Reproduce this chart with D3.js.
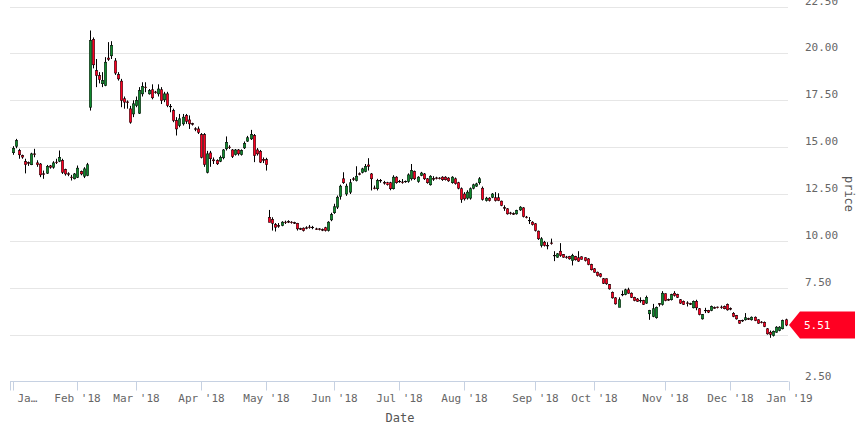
<!DOCTYPE html>
<html><head><meta charset="utf-8">
<script src="https://cdn.jsdelivr.net/npm/d3@7"></script>
<style>body{margin:0;background:#fff} svg{display:block}</style>
</head><body>
<svg id="chart" width="858" height="430"></svg>
<script>
const opens = [
14.70,15.05,14.82,14.55,14.23,14.17,14.06,14.64,14.16,14.10,
13.58,13.61,14.00,13.93,14.20,14.25,14.29,13.80,13.58,13.40,
13.31,13.39,13.70,13.45,13.49,17.13,20.74,19.08,18.82,18.38,
18.29,19.75,19.87,19.60,18.87,18.52,17.58,17.41,17.04,16.77,
17.22,16.81,17.84,18.20,17.84,18.06,17.94,17.84,18.06,17.52,
17.84,17.18,16.95,16.42,16.15,16.24,16.69,16.45,16.25,15.98,
15.97,15.67,15.67,13.66,14.69,14.32,14.29,14.25,14.43,14.91,
15.00,14.85,14.60,14.85,14.60,14.96,15.32,15.44,15.62,14.85,
14.78,14.35,14.33,11.26,11.14,10.87,10.82,10.82,11.00,11.03,
11.00,10.97,10.94,10.65,10.68,10.70,10.74,10.73,10.64,10.64,
10.60,10.70,10.55,11.12,11.50,11.80,12.38,13.31,12.50,12.60,
13.31,13.22,13.58,13.66,13.70,14.05,13.57,12.82,12.78,13.23,
13.11,13.10,13.10,12.78,13.40,13.18,13.14,13.18,13.17,13.31,
13.70,13.17,13.49,13.57,13.31,12.99,13.32,13.36,13.35,13.40,
13.40,13.35,13.10,13.31,13.10,12.78,12.50,12.28,12.28,12.81,
12.92,13.10,12.81,12.15,12.28,12.33,12.30,12.30,12.12,11.77,
11.71,11.49,11.45,11.44,11.65,11.76,11.27,11.10,11.00,10.91,
10.52,9.75,9.93,9.76,9.89,9.23,9.13,9.45,9.27,9.14,
9.17,8.95,9.17,9.10,9.15,9.10,9.04,8.74,8.51,8.33,
8.24,7.98,7.98,7.67,7.26,6.96,6.46,7.15,7.14,7.39,
7.21,6.99,6.90,6.83,6.82,6.68,6.11,5.97,5.90,6.65,
6.61,7.18,6.87,6.86,7.21,7.14,6.86,6.78,6.69,6.65,
6.43,6.78,6.38,5.84,6.30,6.29,6.29,6.44,6.47,6.47,
6.50,6.61,6.39,6.14,6.02,5.75,5.76,5.79,5.85,5.79,
5.93,5.79,5.67,5.66,5.31,5.13,4.95,5.13,5.22,5.31,
5.79];
const highs = [
15.05,15.44,14.91,14.60,14.38,14.23,14.70,14.91,14.30,14.15,
13.75,14.05,14.05,14.25,14.38,14.82,14.38,13.85,13.66,13.52,
13.62,14.02,13.75,13.93,14.16,21.22,20.85,19.70,19.00,19.00,
19.80,20.60,20.65,19.75,19.00,18.64,17.70,17.49,17.20,17.50,
17.70,18.20,18.46,18.46,18.10,18.35,18.00,18.35,18.20,17.95,
17.95,17.30,17.05,16.60,16.77,16.77,16.77,16.69,16.30,16.06,
16.10,15.75,15.75,14.80,14.80,14.45,14.35,14.55,14.90,15.57,
15.10,14.90,14.90,14.90,14.88,15.30,15.60,15.92,15.70,14.95,
14.85,14.45,14.43,11.65,11.26,10.95,10.95,11.05,11.08,11.10,
11.05,11.02,10.96,10.70,10.72,10.78,10.85,10.80,10.70,10.68,
10.66,10.75,11.05,11.50,11.98,12.42,13.00,13.66,13.05,13.30,
13.40,13.98,13.65,13.90,14.10,14.41,13.62,12.95,13.31,13.30,
13.20,13.15,13.15,13.50,13.45,13.25,13.30,13.22,13.60,14.10,
13.75,13.45,13.68,13.62,13.35,13.50,13.45,13.42,13.40,13.45,
13.45,13.40,13.45,13.38,13.15,12.85,12.60,12.70,12.85,13.05,
13.10,13.40,12.90,12.35,12.33,12.55,12.60,12.54,12.15,11.90,
11.75,11.55,11.52,11.66,11.85,11.80,11.33,11.27,11.05,10.95,
10.55,10.20,10.00,9.93,10.12,9.45,9.35,9.88,9.30,9.20,
9.20,9.31,9.20,9.45,9.18,9.13,9.08,8.78,8.55,8.36,
8.28,8.02,8.00,7.70,7.30,7.00,6.99,7.35,7.45,7.50,
7.25,7.02,6.95,6.99,6.86,7.08,6.32,6.64,6.50,6.68,
7.32,7.20,6.92,7.18,7.32,7.18,6.90,6.82,6.78,6.70,
6.82,6.86,6.42,6.10,6.43,6.32,6.55,6.50,6.50,6.55,
6.55,6.66,6.45,6.20,6.05,5.78,5.80,6.15,5.90,5.97,
5.97,5.82,5.72,5.70,5.35,5.22,5.22,5.45,5.45,5.80,
5.85];
const lows = [
14.59,14.94,14.38,14.38,13.60,14.00,14.04,14.46,13.95,13.40,
13.31,13.57,13.85,13.85,14.10,14.20,13.57,13.48,13.45,13.22,
13.28,13.35,13.50,13.35,13.45,16.95,19.20,18.20,18.40,18.20,
18.25,19.60,19.70,18.85,18.55,17.13,17.05,17.05,16.25,16.60,
17.13,16.77,17.70,17.93,17.80,17.55,17.85,17.70,17.30,17.40,
17.13,16.86,16.33,15.62,16.06,16.15,16.24,15.97,16.15,15.85,
15.70,14.40,13.95,13.60,13.95,14.10,14.05,14.20,14.35,14.82,
14.90,14.42,14.55,14.55,14.55,14.90,15.28,15.38,14.20,14.55,
14.15,14.15,13.75,10.99,10.55,10.50,10.70,10.78,10.90,10.95,
10.92,10.90,10.55,10.58,10.50,10.62,10.65,10.62,10.58,10.56,
10.52,10.50,10.50,11.05,11.44,11.70,12.20,13.04,12.40,12.50,
13.20,13.17,13.50,13.60,13.66,13.75,12.69,12.75,12.69,13.10,
13.00,12.95,12.70,12.74,13.05,13.10,13.05,13.10,13.10,13.22,
13.25,13.10,13.45,13.25,13.05,12.95,13.20,13.28,13.28,13.20,
13.22,13.15,13.05,13.00,12.75,12.03,12.15,12.20,12.20,12.75,
12.88,13.00,12.15,12.10,12.10,12.28,12.10,12.12,11.85,11.60,
11.40,11.40,11.38,11.40,11.60,11.25,11.20,10.90,10.82,10.50,
10.05,9.65,9.70,9.55,9.80,8.92,9.10,9.15,9.10,9.05,
9.00,8.69,8.95,8.88,9.00,8.90,8.70,8.42,8.30,8.10,
8.05,7.70,7.66,7.40,6.92,6.60,6.46,7.05,7.10,7.18,
6.95,6.78,6.75,6.70,6.58,6.64,5.79,5.93,5.85,6.50,
6.55,6.78,6.80,6.82,7.03,6.95,6.64,6.58,6.50,6.58,
6.40,6.30,6.03,5.80,6.15,6.15,6.25,6.38,6.40,6.38,
6.35,6.28,6.30,5.93,5.80,5.58,5.68,5.75,5.78,5.75,
5.72,5.58,5.60,5.40,5.00,4.83,4.90,5.10,5.18,5.28,
5.45];
const closes = [
14.94,15.35,14.59,14.47,14.07,14.15,14.64,14.62,14.07,13.52,
13.56,13.98,13.93,14.16,14.19,14.46,13.66,13.57,13.56,13.38,
13.57,13.88,13.57,13.84,14.06,20.69,19.39,18.82,18.60,18.55,
19.53,19.68,20.43,18.95,18.64,17.49,17.40,17.40,16.33,17.31,
17.49,18.02,18.23,18.18,18.02,17.63,17.92,18.10,17.49,17.84,
17.22,17.16,16.42,15.97,16.51,16.60,16.38,16.24,16.23,15.96,
15.79,14.46,14.07,14.64,14.38,14.27,14.11,14.46,14.85,15.26,
14.98,14.50,14.85,14.64,14.82,15.20,15.50,15.67,14.55,14.64,
14.20,14.30,14.07,10.99,10.94,10.73,10.78,11.00,10.98,11.01,
10.98,10.95,10.64,10.63,10.55,10.68,10.72,10.71,10.62,10.62,
10.58,10.55,11.00,11.40,11.82,12.33,12.92,13.10,12.92,13.10,
13.29,13.45,13.56,13.84,13.98,13.98,13.31,12.80,13.22,13.21,
13.09,13.00,12.78,13.40,13.10,13.16,13.12,13.16,13.52,13.75,
13.31,13.40,13.62,13.31,13.10,13.45,13.30,13.34,13.33,13.26,
13.26,13.20,13.40,13.05,12.81,12.21,12.24,12.60,12.78,12.99,
13.04,13.31,12.21,12.28,12.15,12.50,12.15,12.15,11.89,11.75,
11.44,11.47,11.43,11.62,11.80,11.30,11.25,11.08,10.87,10.55,
10.11,10.11,9.75,9.74,9.87,9.21,9.31,9.22,9.13,9.12,
9.04,9.22,8.99,8.92,9.02,8.95,8.74,8.46,8.33,8.15,
8.10,7.74,7.71,7.44,6.96,6.64,6.86,7.13,7.39,7.21,
6.99,6.82,6.78,6.81,6.61,6.99,6.29,6.38,6.46,6.63,
7.21,6.82,6.85,7.14,7.09,6.99,6.68,6.61,6.67,6.63,
6.78,6.43,6.07,6.07,6.28,6.20,6.50,6.42,6.45,6.45,
6.38,6.32,6.37,5.97,5.84,5.61,5.74,5.90,5.83,5.93,
5.75,5.61,5.65,5.43,5.04,5.01,5.18,5.40,5.40,5.75,
5.51];
const tickIndex = [0, 21, 40, 61, 82, 104, 125, 146, 169, 188, 211, 232, 251];
const tickLabels = ["Ja\u2026", "Feb '18", "Mar '18", "Apr '18", "May '18", "Jun '18", "Jul '18",
  "Aug '18", "Sep '18", "Oct '18", "Nov '18", "Dec '18", "Jan '19"];
const priceTicks = [2.5, 5, 7.5, 10, 12.5, 15, 17.5, 20, 22.5];

const FONT = "'DejaVu Sans Mono', monospace";
const UP = "#0f8a2e", DOWN = "#ff0022";
const svg = d3.select("#chart");
const n = closes.length;
const x = d3.scaleLinear().domain([0, n - 1]).range([12.5, 785.5]);
const y = d3.scaleLinear().domain([2.5, 22.5]).range([381.5, 6.5]);
const last = closes[n - 1];
const ly = y(last);

// grid lines
svg.append("g").selectAll("line").data(priceTicks.slice(1)).join("line")
  .attr("x1", 10).attr("x2", 788)
  .attr("y1", d => Math.round(y(d)) + 0.5).attr("y2", d => Math.round(y(d)) + 0.5)
  .attr("stroke", "#e6e6e6").attr("stroke-width", 1);

// x axis
const xAxis = d3.axisBottom(x).tickValues(tickIndex)
  .tickFormat((d, i) => tickLabels[i]).tickSize(9).tickSizeOuter(0).tickPadding(4);
const gx = svg.append("g").attr("transform", "translate(0,381.5)").call(xAxis);
gx.select(".domain").remove();
gx.append("line").attr("x1", 10).attr("x2", x(tickIndex[tickIndex.length - 1]))
  .attr("y1", 0).attr("y2", 0).attr("stroke", "#c6d1e2");
gx.append("line").attr("x1", 10.5).attr("x2", 10.5).attr("y1", 0).attr("y2", 9).attr("stroke", "#c6d1e2");
gx.selectAll(".tick line").attr("stroke", "#c6d1e2");
gx.selectAll(".tick").attr("transform", d => `translate(${Math.round(x(d)) + 0.5},0)`);
gx.selectAll(".tick text").attr("fill", "#666").style("font-family", FONT).style("font-size", "11px");
gx.selectAll(".tick").filter((d, i) => i === 0).select("text")
  .attr("text-anchor", "start").attr("x", 4);

// y axis (right); labels hidden where the last-price marker covers them
const yAxis = d3.axisRight(y).tickValues(priceTicks).tickFormat(d3.format(".2f")).tickSize(0).tickPadding(0);
const gy = svg.append("g").attr("transform", "translate(805,-6)").call(yAxis);
gy.select(".domain").remove();
gy.selectAll(".tick text").attr("fill", "#666").style("font-family", FONT).style("font-size", "11px");
gy.selectAll(".tick").filter(d => Math.abs(y(d) - 6 - ly) < 14).remove();

// axis titles
svg.append("text").attr("x", 400).attr("y", 422).attr("text-anchor", "middle")
  .attr("fill", "#555").style("font-family", FONT).style("font-size", "12px").text("Date");
svg.append("text").attr("transform", "translate(845,194) rotate(90)").attr("text-anchor", "middle")
  .attr("fill", "#555").style("font-family", FONT).style("font-size", "12px").text("price");

// candles
const idx = d3.range(n);
const cx = i => Math.round(x(i)) + 0.5;
const gc = svg.append("g");
gc.selectAll("line").data(idx).join("line")
  .attr("x1", cx).attr("x2", cx)
  .attr("y1", i => y(highs[i])).attr("y2", i => y(lows[i]))
  .attr("stroke", "#000").attr("stroke-width", 1);
gc.selectAll("rect").data(idx).join("rect")
  .attr("x", i => cx(i) - 1.25).attr("width", 2.5)
  .attr("y", i => y(Math.max(opens[i], closes[i])))
  .attr("height", i => Math.max(0.6, Math.abs(y(opens[i]) - y(closes[i]))))
  .attr("fill", i => closes[i] > opens[i] ? UP : DOWN)
  .attr("stroke", "#000").attr("stroke-width", 0.5);

// last price edge indicator
svg.append("path")
  .attr("d", `M789,${ly} L800,${ly - 13.5} L855,${ly - 13.5} L855,${ly + 13.5} L800,${ly + 13.5} Z`)
  .attr("fill", DOWN);
svg.append("text").attr("x", 804).attr("y", ly).attr("dy", "0.35em")
  .attr("fill", "#fff").style("font-family", FONT).style("font-size", "11px")
  .text(d3.format(".2f")(last));
</script>
</body></html>
